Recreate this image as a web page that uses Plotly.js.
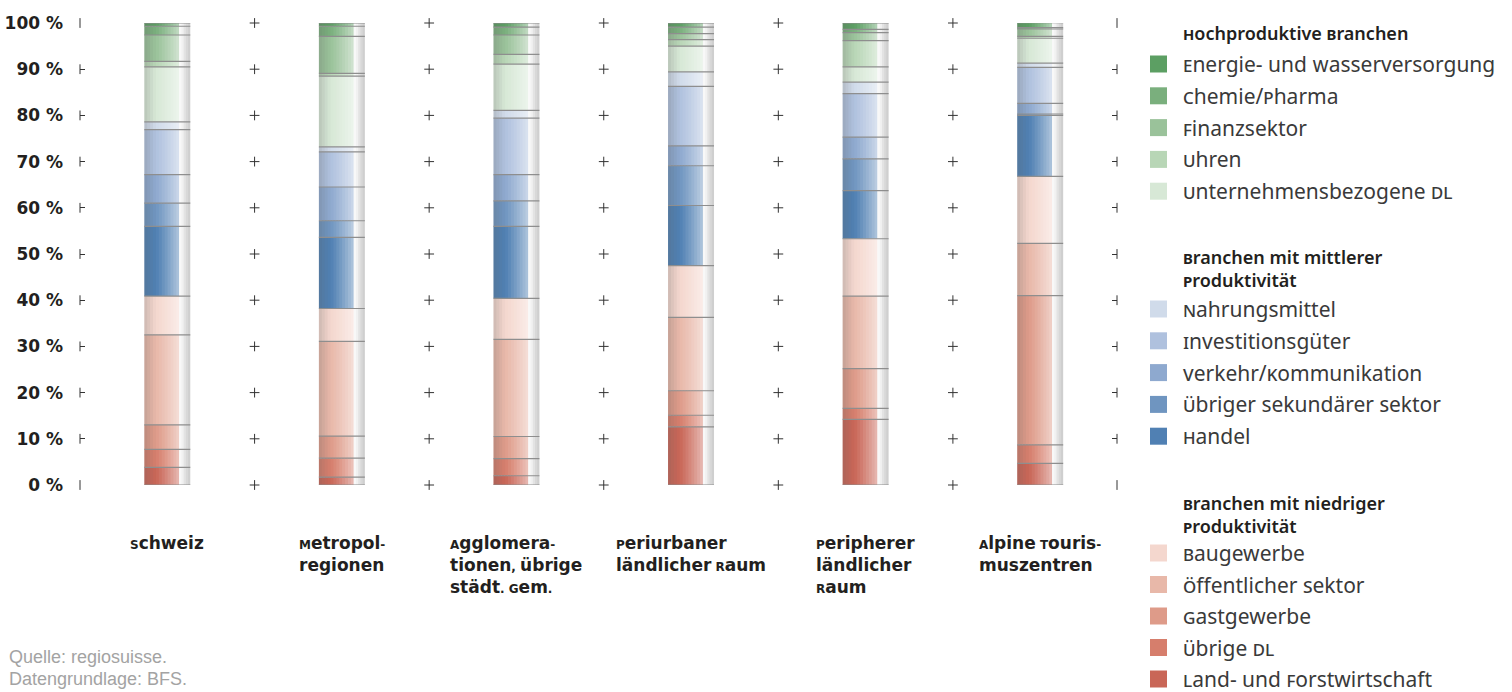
<!DOCTYPE html>
<html><head><meta charset="utf-8">
<script src="https://cdn.plot.ly/plotly-3.0.1.min.js"></script>
<style>html,body{margin:0;padding:0;background:#fff;}#chart{width:1512px;height:692px;}</style>
</head><body><div id="chart"></div>
<script>
// ---------- DATA ----------
const categories = ['Schweiz','Metropolregionen','Agglomerationen, übrige städt. Gem.','Periurbaner ländlicher Raum','Peripherer ländlicher Raum','Alpine Tourismuszentren'];
const categoryLabels = ['Schweiz','Metropol-<br>regionen','Agglomera-<br>tionen, übrige<br>städt. Gem.','Periurbaner<br>ländlicher Raum','Peripherer<br>ländlicher<br>Raum','Alpine Touris-<br>muszentren'];

const groupTitles = ['Hochproduktive Branchen','Branchen mit mittlerer<br>Produktivität','Branchen mit niedriger<br>Produktivität'];
const seriesNames = ['Energie- und Wasserversorgung','Chemie/Pharma','Finanzsektor','Uhren','Unternehmensbezogene DL',
  'Nahrungsmittel','Investitionsgüter','Verkehr/Kommunikation','Übriger sekundärer Sektor','Handel',
  'Baugewerbe','Öffentlicher Sektor','Gastgewerbe','Übrige DL','Land- und Forstwirtschaft'];
const seriesGroup = [0,0,0,0,0,1,1,1,1,1,2,2,2,2,2];
const seriesColors = ['#5c9f63','#7aaf7d','#9ac29a','#b8d6b6','#d7e8d6',
  '#d0dbea','#afc1de','#8ea9cf','#6f95c0','#5080b3',
  '#f4d7ce','#e8b8a9','#de9b89','#d67e6c','#c96657'];

// shares in %, one value per category
const energie   = [0.7, 0.7, 0.9, 0.9, 1.4, 1.1];
const chemie    = [1.9, 2.2, 1.7, 1.4, 0.7, 0.3];
const finanz    = [5.7, 8.0, 4.2, 1.3, 1.7, 1.6];
const uhren     = [1.2, 0.6, 2.1, 1.4, 5.7, 0.4];
const unternDL  = [11.9, 15.3, 10.0, 5.6, 3.3, 5.4];
const nahrung   = [1.7, 1.1, 1.7, 3.1, 2.5, 0.9];
const invest    = [9.7, 7.6, 12.2, 12.9, 9.4, 7.8];
const verkehr   = [6.2, 7.3, 5.7, 4.3, 4.7, 2.3];
const uebrSek   = [5.0, 3.6, 5.5, 8.6, 6.9, 0.3];
const handel    = [15.1, 15.4, 15.6, 13.0, 10.4, 13.2];
const bau       = [8.4, 7.1, 8.9, 11.2, 12.4, 14.5];
const oeffentl  = [19.5, 20.5, 21.0, 15.9, 15.7, 11.3];
const gast      = [5.3, 4.8, 4.8, 5.3, 8.6, 32.3];
const uebrDL    = [3.9, 4.1, 3.7, 2.5, 2.4, 4.0];
const landForst = [3.8, 1.7, 2.0, 12.6, 14.2, 4.7];
const seriesValues = [energie,chemie,finanz,uhren,unternDL,nahrung,invest,verkehr,uebrSek,handel,bau,oeffentl,gast,uebrDL,landForst];

const yTickValues = [0,10,20,30,40,50,60,70,80,90,100];
const yTickText = yTickValues.map(v=>v+' %');
const sourceLines = ['Quelle: regiosuisse.','Datengrundlage: BFS.'];

// ---------- helpers ----------
function hex2rgb(h){h=h.replace('#','');return [parseInt(h.substr(0,2),16),parseInt(h.substr(2,2),16),parseInt(h.substr(4,2),16)];}
function mix(a,b,f){return a.map((v,i)=>Math.round(v*(1-f)+b[i]*f));}
function rgbStr(c){return 'rgb('+c.join(',')+')';}
function shade(hex,t){
  const c=hex2rgb(hex);
  if(t<0.33){return rgbStr(mix(c,[95,95,95],0.26*(1-t/0.33)));}
  return rgbStr(mix(c,[255,255,255],0.55*Math.pow((t-0.33)/0.67,1.15)));
}

// plot area geometry (pixels) for paper-coordinate conversion of the legend
const PL=80, PR=1117, PT=23, PB=485;
const px2x = p => (p-PL)/(PR-PL);
const px2y = p => (PB-p)/(PB-PT);

const idx = categories.map((c,i)=>i);
const nS = seriesValues.length;
// stack bottom-up: last series at the bottom
const bases = seriesValues.map((vals,k)=>idx.map(i=>{let s=0;for(let j=k+1;j<nS;j++)s+=seriesValues[j][i];return s;}));
const totals = idx.map(i=>seriesValues.reduce((a,v)=>a+v[i],0));

const BAR_LEFT = -0.1317, COLOR_W = 0.200, STRIP_W = 0.0634;
const N = 12;
const sliceW = COLOR_W/N;
const traces = [];
for(let k=0;k<nS;k++){
  for(let s=0;s<N;s++){
    const t=(s+0.5)/N;
    traces.push({type:'bar', x:idx, y:seriesValues[k], base:bases[k],
      offset:BAR_LEFT+s*sliceW, width: s<N-1? sliceW*1.6 : sliceW,
      marker:{color:shade(seriesColors[k],t), line:{width:0}},
      showlegend:false, hoverinfo:'skip', name:seriesNames[k], legendgroup:seriesNames[k]});
  }
}
// glossy strip on the right side of each bar
const stripCols=['#f8f8f8','#f1f1f1','#e3e3e3','#d8d8d8','#cfcfcf'];
const stripN=stripCols.length, stripSW=STRIP_W/stripN;
stripCols.forEach((col,s)=>{
  traces.push({type:'bar', x:idx, y:totals, base:idx.map(()=>0),
    offset:BAR_LEFT+COLOR_W+s*stripSW, width: s<stripN-1? stripSW*1.6: stripSW,
    marker:{color:col,line:{width:0}}, showlegend:false, hoverinfo:'skip'});
});
// separator lines between segments
const lx=[], ly=[];
idx.forEach(i=>{
  const bounds=[0];
  for(let k=nS-1;k>=0;k--) bounds.push(bases[k][i]+seriesValues[k][i]);
  bounds.forEach(b=>{lx.push(i+BAR_LEFT, i+BAR_LEFT+COLOR_W+STRIP_W, null); ly.push(b,b,null);});
});
traces.push({type:'scatter',mode:'lines',x:lx,y:ly,line:{color:'#8e8e8e',width:1.2},showlegend:false,hoverinfo:'skip',cliponaxis:false});
// cross marks between categories
const cx=[],cy=[];
for(let i=0;i<categories.length-1;i++){yTickValues.forEach(v=>{cx.push(i+0.5);cy.push(v);});}
traces.push({type:'scatter',mode:'markers',x:cx,y:cy,marker:{symbol:'cross-thin',size:7,line:{color:'#333',width:1}},showlegend:false,hoverinfo:'skip',cliponaxis:false});
// edge marks
const XR=[-0.5,5.44];
const ex=[],ey=[];
XR.forEach(xv=>yTickValues.forEach(v=>{ex.push(xv);ey.push(v);}));
traces.push({type:'scatter',mode:'markers',x:ex,y:ey,marker:{symbol:'line-ns',size:7,line:{color:'#333',width:1}},showlegend:false,hoverinfo:'skip',cliponaxis:false});

// ---------- annotations & legend ----------
const annotations=[], shapes=[];
categoryLabels.forEach((lab,i)=>{
  annotations.push({xref:'x',yref:'paper',x:i,y:-0.0996,xanchor:'center',yanchor:'top',align:'left',showarrow:false,
    text:lab,font:{family:'DejaVu Sans',size:17,weight:700,color:'#231f20',variant:'unicase'}});
});
sourceLines.forEach((s,j)=>{
  annotations.push({xref:'paper',yref:'paper',x:px2x(8),y:px2y(657+22*j),xanchor:'left',yanchor:'middle',showarrow:false,align:'left',borderpad:0,
    text:s,font:{family:'Liberation Sans',size:18,color:'#a3a3a3'}});
});
// legend (drawn manually for exact spacing)
const groupTop=[32,256,502];
const legTextX=1182, swX0=1150, swSize=17;
const TITLE_FS=18;
groupTitles.forEach((title,g)=>{
  const nLines = title.split('<br>').length;
  annotations.push({xref:'paper',yref:'paper',x:px2x(legTextX),y:px2y(groupTop[g]-TITLE_FS*0.65),xanchor:'left',yanchor:'top',align:'left',showarrow:false,borderpad:0,
    text:title,font:{family:'Noto Sans',size:TITLE_FS,weight:600,color:'#231f20',variant:'unicase'}});
  const firstItem = groupTop[g]+21*(nLines-1)+32;
  const step = g===2 ? 31.5 : 31.8;
  let r=0;
  seriesNames.forEach((nm,k)=>{
    if(seriesGroup[k]!==g) return;
    const yc=(g===2? firstItem-2 : firstItem)+step*r; r++;
    shapes.push({type:'rect',xref:'paper',yref:'paper',x0:px2x(swX0),x1:px2x(swX0+swSize),y0:px2y(yc-swSize/2),y1:px2y(yc+swSize/2),
      fillcolor:seriesColors[k],line:{width:0}});
    annotations.push({xref:'paper',yref:'paper',x:px2x(legTextX),y:px2y(yc),xanchor:'left',yanchor:'middle',showarrow:false,borderpad:0,
      text:nm,font:{family:'Noto Sans',size:21,color:'#3a3a3a',variant:'unicase'}});
  });
});

const layout={
  width:1512,height:692,
  margin:{l:PL,r:1512-PR,t:PT,b:692-PB,pad:0},
  paper_bgcolor:'#fff',plot_bgcolor:'#fff',
  barmode:'overlay',
  xaxis:{range:XR,showgrid:false,zeroline:false,showticklabels:false,showline:false,ticks:''},
  yaxis:{range:[0,100],tickmode:'array',tickvals:yTickValues,ticktext:yTickText,ticks:'inside',ticklen:5,tickwidth:1,tickcolor:'#333',
    mirror:'ticks',showgrid:false,zeroline:false,showline:false,ticklabelstandoff:16,
    tickfont:{family:'DejaVu Sans',size:17,weight:700,color:'#231f20'}},
  annotations:annotations,
  shapes:shapes,
  showlegend:false
};
Plotly.newPlot('chart',traces,layout,{displayModeBar:false,staticPlot:true});
</script></body></html>
